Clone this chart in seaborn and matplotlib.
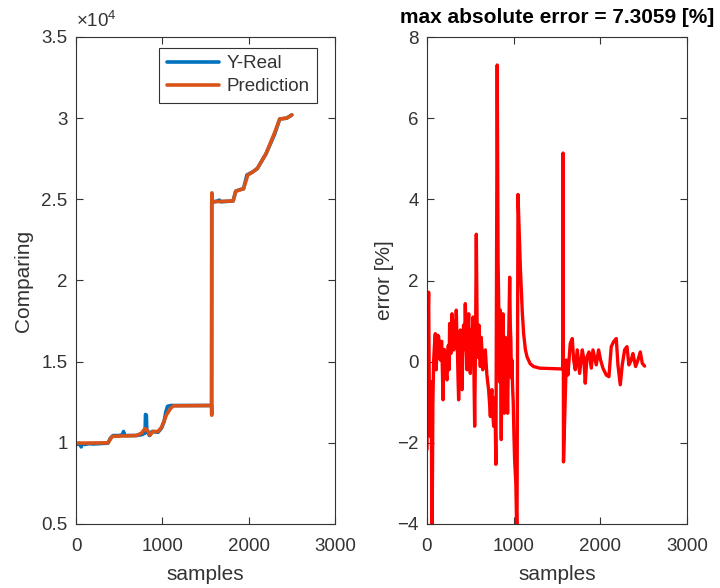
import numpy as np
import pandas as pd
import matplotlib
matplotlib.use("Agg")
import matplotlib.pyplot as plt
import matplotlib.ticker as mticker
import seaborn as sns

# ---------------- data ----------------
real_samples = [0, 20, 40, 60, 70, 100, 150, 200, 300, 370, 400, 430, 500, 540, 550, 565,
                650, 700, 760, 800, 805, 815, 820, 850, 880, 950, 990, 1020, 1040, 1060,
                1100, 1570, 1572, 1600, 1640, 1660, 1680, 1820, 1850, 1900, 1940, 1980,
                2050, 2100, 2200, 2300, 2360, 2440, 2500]
real_values = [9950, 9900, 9980, 9750, 9950, 9900, 9950, 9930, 9960, 9980, 10300, 10450,
               10450, 10500, 10700, 10450, 10450, 10450, 10500, 10600, 11750, 11700, 10800,
               10450, 10700, 10650, 10900, 11300, 11900, 12250, 12300, 12300, 24800, 24850,
               24900, 24950, 24850, 24900, 25500, 25600, 25650, 26500, 26700, 26900, 27800,
               29000, 29950, 30000, 30200]

pred_samples = [0, 370, 420, 700, 760, 800, 830, 857, 890, 950, 990, 1050, 1100, 1130,
                1570, 1572, 1574, 1580, 1820, 1850, 1940, 1990, 2050, 2100, 2200, 2300,
                2360, 2440, 2500]
pred_values = [9980, 10000, 10400, 10450, 10600, 10880, 10750, 10460, 10700, 10700, 10950,
               11750, 12150, 12280, 12300, 11700, 25400, 24850, 24900, 25500, 25650, 26500,
               26700, 26900, 27800, 29100, 29950, 30000, 30200]

err_samples = [0, 10, 19, 28, 38, 48, 58, 68, 77, 86, 96, 106, 115, 125, 135, 145, 154, 162,
               170, 178, 185, 193, 200, 211, 221, 231, 239, 246, 254, 261, 268, 275, 282, 288,
               298, 308, 315, 322, 330, 338, 345, 352, 358, 365, 375, 385, 395, 404, 413, 422,
               432, 442, 452, 461, 471, 481, 490, 500, 508, 515, 523, 531, 540, 550, 560, 569,
               578, 588, 594, 600, 608, 615, 625, 634, 643, 652, 662, 673, 681, 690, 700, 711,
               721, 731, 740, 750, 760, 769, 776, 782, 788, 795, 810, 820, 830, 838, 846, 852,
               857, 862, 867, 872, 877, 884, 892, 898, 904, 910, 915, 922, 930, 942, 954, 961,
               968, 974, 980, 987, 995, 1003, 1011, 1025, 1038, 1050, 1077, 1100, 1115, 1135,
               1154, 1190, 1230, 1300, 1423, 1565, 1570, 1575, 1607, 1626, 1653, 1676, 1692,
               1711, 1734, 1761, 1792, 1811, 1826, 1846, 1869, 1896, 1915, 1953, 1980, 2003,
               2030, 2069, 2099, 2126, 2153, 2184, 2203, 2230, 2253, 2280, 2307, 2330, 2357,
               2376, 2407, 2434, 2461, 2484, 2511]
err_values = [-2.16, 0.8, 1.71, -1.2, -1.84, -0.5, -4.6, -1.0, 0.04, 0.4, 0.69, -0.2, 0.3,
              0.65, 0.61, 0.2, 0.04, 0.5, 0.5, -0.3, -0.94, 0.1, 0.3, 0.2, -0.3, -0.45, 0.1,
              0.4, -0.2, 0.94, 0.5, 0.2, 0.8, 1.18, 0.6, 0.29, 0.7, 1.0, 0.5, 1.27, 0.6, 0.2,
              -0.4, -0.94, 0.2, 0.78, 0.3, -0.69, 0.2, 0.9, 0.3, 1.43, 0.5, -0.2, 0.7, 1.18,
              0.2, -0.29, 0.6, 0.8, 0.1, 1.1, 0.0, -1.59, 0.5, 3.14, 0.9, 0.37, 0.1, 0.9, 0.3,
              -0.12, 0.6, 0.29, -0.2, 0.1, -0.1, 0.29, 0.0, -0.3, -0.5, -0.69, -1.0, -1.35,
              -0.8, -0.69, -1.3, -1.59, -0.9, -1.1, -1.6, -2.53, 7.31, 2.5, 1.0, -0.5, 1.27,
              -0.5, -1.92, -0.3, -0.5, 0.4, 1.18, -0.4, -1.27, -0.2, 0.6, -0.6, 0.37, -0.3,
              -1.27, 0.5, 2.08, 0.9, 0.5, -0.4, 0.04, -0.6, -1.0, -1.8, -2.41, -3.0, -4.5, 4.12,
              2.33, 1.2, 0.69, 0.3, 0.12, -0.05, -0.12, -0.16, -0.17, -0.18, 5.14, -2.47, 0.04,
              -0.33, 0.45, 0.57, 0.04, -0.2, 0.29, -0.29, 0.29, 0.04, -0.53, 0.12, 0.24, -0.16,
              0.29, -0.08, 0.29, 0.04, -0.16, -0.33, -0.37, 0.37, 0.49, 0.57, -0.08, -0.57,
              -0.08, 0.29, 0.37, -0.08, 0.04, 0.2, -0.12, 0.04, 0.24, -0.04, -0.11]

x_ticks = [0, 1000, 2000, 3000]
left_yticks = [5000, 10000, 15000, 20000, 25000, 30000, 35000]
right_yticks = [-4, -2, 0, 2, 4, 6, 8]
title_text = "max absolute error = 7.3059 [%]"

# ---------------- style ----------------
sns.set_style("white")
TXT = "#333333"
plt.rcParams.update({
    "font.family": ["Liberation Sans", "DejaVu Sans"],
    "mathtext.fontset": "custom",
    "mathtext.rm": "Liberation Sans",
    "mathtext.it": "Liberation Sans:italic",
    "xtick.direction": "in",
    "ytick.direction": "in",
    "xtick.top": True,
    "ytick.right": True,
    "xtick.bottom": True,
    "ytick.left": True,
    "xtick.major.size": 5,
    "ytick.major.size": 5,
    "xtick.major.width": 0.8,
    "ytick.major.width": 0.8,
    "xtick.color": TXT,
    "ytick.color": TXT,
    "axes.edgecolor": TXT,
    "axes.linewidth": 0.8,
    "text.color": TXT,
    "axes.labelcolor": TXT,
})

fig = plt.figure(figsize=(7.2, 5.88), dpi=100)
fig.patch.set_facecolor("white")
ax1 = fig.add_axes([76 / 720, 1 - 524 / 588, 259 / 720, 487 / 588])
ax2 = fig.add_axes([427 / 720, 1 - 524 / 588, 260 / 720, 487 / 588])

df_real = pd.DataFrame({"samples": real_samples, "value": real_values})
df_pred = pd.DataFrame({"samples": pred_samples, "value": pred_values})
df_err = pd.DataFrame({"samples": err_samples, "error": err_values})

sns.lineplot(data=df_real, x="samples", y="value", ax=ax1, color="#0072BD",
             linewidth=2.6, sort=False, estimator=None, label="Y-Real")
sns.lineplot(data=df_pred, x="samples", y="value", ax=ax1, color="#D95319",
             linewidth=2.6, sort=False, estimator=None, label="Prediction")
sns.lineplot(data=df_err, x="samples", y="error", ax=ax2, color="#FF0000",
             linewidth=2.4, sort=False, estimator=None, legend=False)

TICK_FS = 13.5
LAB_FS = 15

for ax in (ax1, ax2):
    ax.set_xlim(0, 3000)
    ax.set_xticks(x_ticks)
    ax.tick_params(labelsize=TICK_FS, colors=TXT)
    ax.tick_params(axis="x", pad=10)
    ax.tick_params(axis="y", pad=6)
    for s in ax.spines.values():
        s.set_visible(True)
        s.set_color(TXT)
        s.set_linewidth(0.8)
    ax.set_xlabel("samples", fontsize=LAB_FS, labelpad=7)

ax1.set_ylim(5000, 35000)
ax1.set_yticks(left_yticks)
ax1.yaxis.set_major_formatter(mticker.FuncFormatter(lambda v, p: "%g" % (v / 1e4)))
ax1.set_ylabel("Comparing", fontsize=LAB_FS, labelpad=6)
ax1.text(0.0, 1.012, r"$\times10^{4}$", transform=ax1.transAxes, fontsize=TICK_FS,
         ha="left", va="bottom", color=TXT)

leg = ax1.legend(loc="upper right", bbox_to_anchor=(0.932, 0.978), fontsize=TICK_FS,
                 frameon=True, fancybox=False, edgecolor=TXT, framealpha=1,
                 handlelength=2.8, borderpad=0.4, labelspacing=0.3, handletextpad=0.4,
                 borderaxespad=0)
leg.get_frame().set_linewidth(0.8)

ax2.set_ylim(-4, 8)
ax2.set_yticks(right_yticks)
ax2.set_ylabel("error [%]", fontsize=LAB_FS, labelpad=2)
ax2.set_title(title_text, fontsize=LAB_FS, fontweight="bold", pad=10, color="black")

fig.savefig("out.png", dpi=100, facecolor="white")
